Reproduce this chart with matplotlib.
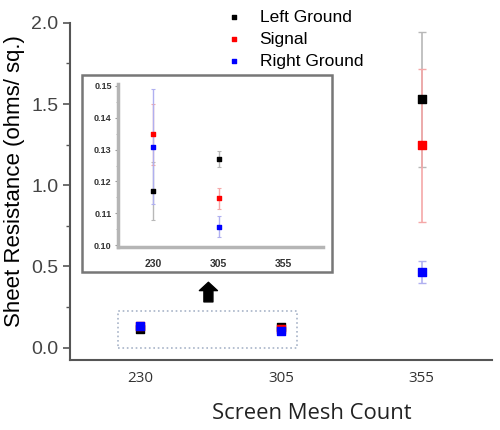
import matplotlib.pyplot as plt
from matplotlib.patches import Rectangle
from matplotlib.ticker import MultipleLocator

mesh_counts = ["230", "305", "355"]
series_names = ["Left Ground", "Signal", "Right Ground"]

left_ground = [0.117, 0.127, 1.528]
left_ground_err = [0.009, 0.0025, 0.418]
signal = [0.1348, 0.1147, 1.245]
signal_err = [0.0095, 0.0034, 0.472]
right_ground = [0.1308, 0.1059, 0.466]
right_ground_err = [0.018, 0.0032, 0.066]

# inset shows only the two lower mesh counts
inset_idx = [0, 1]

marker_colors = ["black", "red", "blue"]
err_colors = ["#b8b8b8", "#f5a8a8", "#b0b0f0"]

plt.rcParams["font.family"] = ["Liberation Sans", "DejaVu Sans"]

fig = plt.figure(figsize=(5, 4.3), dpi=100)
ax = fig.add_axes([0.14, 0.163, 0.844, 0.784])

values = [left_ground, signal, right_ground]
errors = [left_ground_err, signal_err, right_ground_err]
xpos = list(range(len(mesh_counts)))

handles = []
for name, vals, errs, mc, ec in zip(series_names, values, errors, marker_colors, err_colors):
    ax.errorbar(xpos, vals, yerr=errs, fmt="none", ecolor=ec, elinewidth=1.2,
                capsize=3, capthick=1, zorder=2)
    h = ax.scatter(xpos, vals, marker="s", s=34, color=mc, zorder=3, label=name)
    handles.append(h)

ax.set_xlim(-0.5, 2.5)
ax.set_ylim(-0.075, 2.0)
ax.set_xticks(xpos)
ax.set_xticklabels(mesh_counts, family="Open Sans", fontsize=11, color="#333333")
ax.tick_params(axis="x", length=0, pad=8)
ax.yaxis.set_major_locator(MultipleLocator(0.5))
ax.yaxis.set_minor_locator(MultipleLocator(0.25))
ax.yaxis.set_major_formatter(plt.FormatStrFormatter("%.1f"))
ax.tick_params(axis="y", which="major", length=5, width=1.2, color="#555555",
               labelsize=14, labelcolor="#444444")
ax.tick_params(axis="y", which="minor", length=3, width=1, color="#555555")
for side in ["top", "right"]:
    ax.spines[side].set_visible(False)
for side in ["left", "bottom"]:
    ax.spines[side].set_color("#555555")
    ax.spines[side].set_linewidth(1.5)

ax.set_ylabel("Sheet Resistance (ohms/ sq.)", fontsize=16)
ax.yaxis.set_label_coords(-0.107, 0.53)
ax.set_xlabel("Screen Mesh Count", family="Open Sans", fontsize=15.8,
              color="#222222")
ax.xaxis.set_label_coords(0.573, -0.128)

ax.legend(handles=handles, loc="upper left", bbox_to_anchor=(0.33, 1.06),
          frameon=False, fontsize=12.5, markerscale=0.6, handletextpad=0.5,
          labelspacing=0.4, borderaxespad=0)

# dotted box around the low values and arrow up to the inset
ax.add_patch(Rectangle((-0.157, 0.0), 1.274, 0.223, fill=False, linestyle=":",
                       edgecolor="#a8b4c8", linewidth=1.2, zorder=1))
ax.annotate("", xy=(0.484, 0.42), xytext=(0.484, 0.265),
            arrowprops=dict(arrowstyle="simple,head_width=1.3,head_length=0.6,tail_width=0.65",
                            color="black"))

# inset frame
fig.patches.append(Rectangle((0.164, 0.367), 0.5, 0.458, transform=fig.transFigure,
                             fill=False, edgecolor="#777777", linewidth=1.8))

axi = fig.add_axes([0.236, 0.4256, 0.41, 0.379])
for vals, errs, mc, ec in zip(values, errors, marker_colors, err_colors):
    xs = [xpos[i] for i in inset_idx]
    ys = [vals[i] for i in inset_idx]
    es = [errs[i] for i in inset_idx]
    axi.errorbar(xs, ys, yerr=es, fmt="none", ecolor=ec, elinewidth=1.0,
                 capsize=1.5, capthick=0.8, zorder=2)
    axi.scatter(xs, ys, marker="s", s=10, color=mc, zorder=3)

axi.set_xlim(-0.54, 2.6)
axi.set_ylim(0.0995, 0.1505)
axi.set_xticks(xpos)
axi.set_xticklabels(mesh_counts, fontsize=7.5, fontweight="bold", color="#333333")
axi.tick_params(axis="x", length=0, pad=9)
axi.yaxis.set_major_locator(MultipleLocator(0.01))
axi.yaxis.set_minor_locator(MultipleLocator(0.005))
axi.yaxis.set_major_formatter(plt.FormatStrFormatter("%.2f"))
axi.tick_params(axis="y", which="major", length=2.5, width=0.8, color="#999999",
                labelsize=6.5, labelcolor="#333333", pad=2)
axi.tick_params(axis="y", which="minor", length=1.5, width=0.6, color="#aaaaaa")
for lab in axi.get_yticklabels():
    lab.set_fontweight("bold")
axi.patch.set_alpha(0)
for side in ["top", "right"]:
    axi.spines[side].set_visible(False)
for side in ["left", "bottom"]:
    axi.spines[side].set_color("#b5b5b5")
    axi.spines[side].set_linewidth(2.5)

fig.savefig("out.png", dpi=100)
